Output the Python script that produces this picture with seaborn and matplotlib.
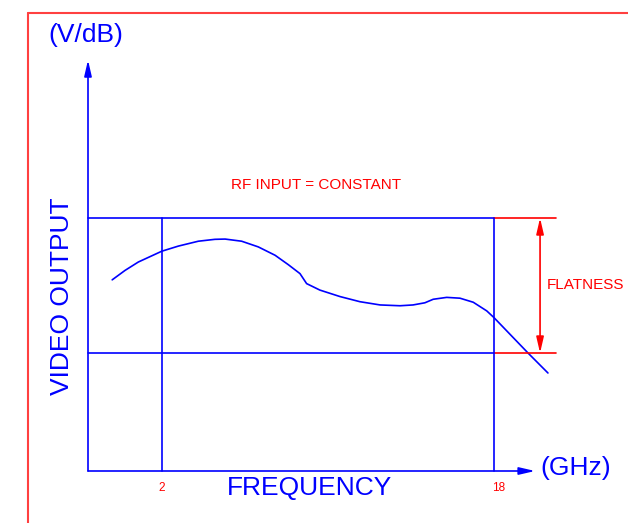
import matplotlib
matplotlib.use('Agg')
import matplotlib.pyplot as plt
import seaborn as sns
import pandas as pd
from matplotlib.lines import Line2D

# response curve (frequency in GHz, video output level)
freq_ghz = [-0.40, 0.22, 0.86, 1.99, 2.79, 3.75, 4.55, 5.04, 5.84, 6.64, 7.45, 8.09,
            8.65, 8.97, 9.61, 10.58, 11.54, 12.51, 13.47, 14.10, 14.67, 15.07, 15.72,
            16.36, 17.00, 17.65, 18.00, 19.64, 20.60]
video_level = [6.71, 7.06, 7.37, 7.77, 7.96, 8.14, 8.21, 8.22, 8.14, 7.93, 7.62, 7.27,
               6.94, 6.57, 6.33, 6.09, 5.90, 5.78, 5.75, 5.78, 5.86, 5.99, 6.06,
               6.03, 5.88, 5.56, 5.31, 4.00, 3.26]

band_freqs = [2, 18]          # band edges
band_labels = ['2', '18']
flat_levels = [4, 9]          # flatness limits (lower, upper)

blue = '#0000ff'
red = '#ff0000'
font = 'Liberation Sans'

sns.set_style('white')
plt.rcParams['font.family'] = [font, 'DejaVu Sans']

fig = plt.figure(figsize=(6.28, 5.23), dpi=100)
ax = fig.add_axes([0, 0, 1, 1])
ax.set_xlim(-5.807, 24.458)
ax.set_ylim(-2.296, 17.074)
ax.axis('off')

x0, y0 = -1.566, -0.370      # axis origin
x_end, y_end = 19.98, 14.85  # arrow tips
band_right = 20.99

df = pd.DataFrame({'freq': freq_ghz, 'level': video_level})
sns.lineplot(data=df, x='freq', y='level', sort=False, estimator=None,
             color=blue, lw=1.2, ax=ax)

# axes arrows
arrow = dict(arrowstyle='-|>,head_length=0.95,head_width=0.22', color=blue, lw=1.2,
             shrinkA=0, shrinkB=0, mutation_scale=10)
ax.annotate('', xy=(x0, y_end), xytext=(x0, y0), arrowprops=arrow)
ax.annotate('', xy=(x_end, y0), xytext=(x0, y0), arrowprops=arrow)

# flatness band
for lv in flat_levels:
    ax.plot([x0, band_freqs[1]], [lv, lv], color=blue, lw=1.2)
    ax.plot([band_freqs[1], band_right], [lv, lv], color=red, lw=1.2)
for f, lab in zip(band_freqs, band_labels):
    ax.plot([f, f], [y0, flat_levels[1]], color=blue, lw=1.2)
    ax.text(f + (0.2 if lab == '18' else 0), -1.0, lab, color=red, fontsize=8.5,
            ha='center', va='center')

darrow = dict(arrowstyle='<|-|>,head_length=0.95,head_width=0.22', color=red, lw=1.2,
              shrinkA=0, shrinkB=0, mutation_scale=10)
ax.annotate('', xy=(20.22, flat_levels[1]), xytext=(20.22, flat_levels[0]), arrowprops=darrow)

ax.text(-1.66, 15.78, '(V/dB)', color=blue, fontsize=19, ha='center', va='center')
ax.text(-2.82, 6.11, 'VIDEO OUTPUT', color=blue, fontsize=19, rotation=90,
        ha='center', va='center')
ax.text(9.13, -1.0, 'FREQUENCY', color=blue, fontsize=19, ha='center', va='center')
ax.text(20.22, -0.26, '(GHz)', color=blue, fontsize=19, ha='left', va='center')
ax.text(9.42, 10.22, 'RF INPUT = CONSTANT', color=red, fontsize=11, ha='center', va='center')
ax.text(20.55, 6.52, 'FLATNESS', color=red, fontsize=11, ha='left', va='center')

# red frame (left and top edges visible)
fig.add_artist(Line2D([28 / 628, 28 / 628], [0, 1 - 13 / 523], color='#ff4040', lw=1.5,
                      transform=fig.transFigure))
fig.add_artist(Line2D([28 / 628, 1], [1 - 13 / 523, 1 - 13 / 523], color='#ff4040', lw=1.5,
                      transform=fig.transFigure))

fig.savefig('out.png', dpi=100)
plt.close()
